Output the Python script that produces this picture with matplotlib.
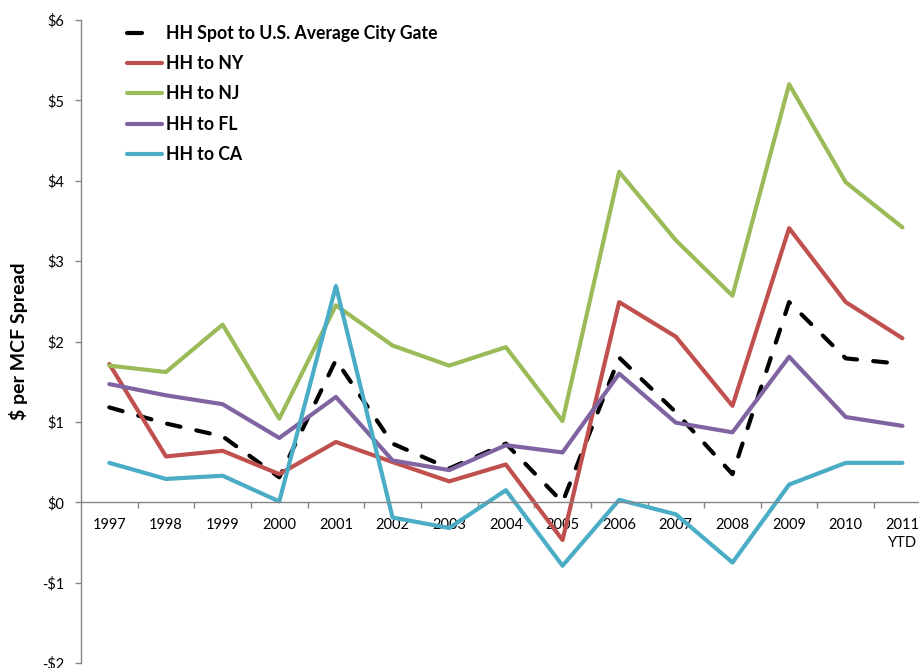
import matplotlib
matplotlib.use("Agg")
import matplotlib.pyplot as plt
from matplotlib.lines import Line2D
from matplotlib.ticker import FixedLocator, FuncFormatter

plt.rcParams['font.family'] = ['Lato', 'DejaVu Sans']

years = ['1997', '1998', '1999', '2000', '2001', '2002', '2003', '2004',
         '2005', '2006', '2007', '2008', '2009', '2010', '2011\nYTD']

hh_city_gate = [1.18, 0.98, 0.82, 0.31, 1.77, 0.73, 0.42, 0.73, 0.00,
                1.80, 1.12, 0.35, 2.49, 1.79, 1.72]
hh_ny = [1.72, 0.57, 0.64, 0.35, 0.75, 0.50, 0.26, 0.47, -0.47,
         2.49, 2.06, 1.20, 3.41, 2.49, 2.04]
hh_nj = [1.70, 1.62, 2.21, 1.04, 2.45, 1.95, 1.70, 1.93, 1.01,
         4.11, 3.26, 2.57, 5.20, 3.98, 3.42]
hh_fl = [1.47, 1.33, 1.22, 0.80, 1.31, 0.52, 0.40, 0.71, 0.62,
         1.60, 0.99, 0.87, 1.81, 1.06, 0.95]
hh_ca = [0.49, 0.29, 0.33, 0.01, 2.69, -0.19, -0.32, 0.15, -0.79,
         0.03, -0.15, -0.75, 0.22, 0.49, 0.49]

series_labels = ['HH Spot to U.S. Average City Gate', 'HH to NY', 'HH to NJ',
                 'HH to FL', 'HH to CA']
series_colors = ['#000000', '#C0504D', '#9BBB59', '#8064A2', '#4BACC6']

W, H = 920, 668
fig = plt.figure(figsize=(W / 100, H / 100), dpi=100)
# plot area: left spine at x=81px, category band of 56.65px per year
left, right = 81, 81 + 15 * 56.65
top, bottom = 20, 663
ax = fig.add_axes([left / W, (H - bottom) / H, (right - left) / W, (bottom - top) / H])

x = list(range(len(years)))
lw = 3.0
handles = []
for vals, lab, col in zip([hh_city_gate, hh_ny, hh_nj, hh_fl, hh_ca],
                          series_labels, series_colors):
    if col == '#000000':
        ax.plot(x, vals, color=col, lw=lw, dashes=(3.3, 3.9),
                dash_capstyle='round', solid_joinstyle='round', zorder=2)
        handles.append(Line2D([], [], color=col, lw=lw, dashes=(3.6, 30),
                              dash_capstyle='round'))
    else:
        ax.plot(x, vals, color=col, lw=lw, solid_capstyle='round',
                solid_joinstyle='round', zorder=2)
        handles.append(Line2D([], [], color=col, lw=lw, solid_capstyle='round'))

ax.set_xlim(-0.5, len(years) - 0.5)
ax.set_ylim(-2, 6)

axis_gray = '#868686'
for s in ['top', 'right']:
    ax.spines[s].set_visible(False)
ax.spines['left'].set_color(axis_gray)
ax.spines['bottom'].set_color(axis_gray)
ax.spines['bottom'].set_position(('data', 0))
ax.spines['left'].set_linewidth(1.0)
ax.spines['bottom'].set_linewidth(1.0)

ax.set_yticks(range(-2, 7))
ax.yaxis.set_major_formatter(FuncFormatter(lambda v, p: f'${int(v)}' if v >= 0 else f'-${int(-v)}'))
ax.tick_params(axis='y', direction='out', length=4, width=1, color=axis_gray,
               labelsize=10.5, labelcolor='#000000', pad=8)

ax.set_xticks(x)
ax.set_xticklabels(years, fontsize=10.5, linespacing=1.4, va='top')
ax.xaxis.set_minor_locator(FixedLocator([i + 0.5 for i in range(len(years))]))
ax.tick_params(axis='x', which='major', length=0, pad=11)
ax.tick_params(axis='x', which='minor', direction='out', length=4, width=1, color=axis_gray)

ax.set_ylabel('$ per MCF Spread', fontsize=14, fontweight='bold', labelpad=10)

ax.legend(handles, series_labels, loc='upper left',
          bbox_to_anchor=(127 / W, (H - 25) / H), bbox_transform=fig.transFigure,
          frameon=False, prop={'weight': 'bold', 'size': 12.7},
          handlelength=2.0, handletextpad=0.2, labelspacing=0.75,
          borderaxespad=0, borderpad=0)

fig.savefig('out.png', dpi=100)
